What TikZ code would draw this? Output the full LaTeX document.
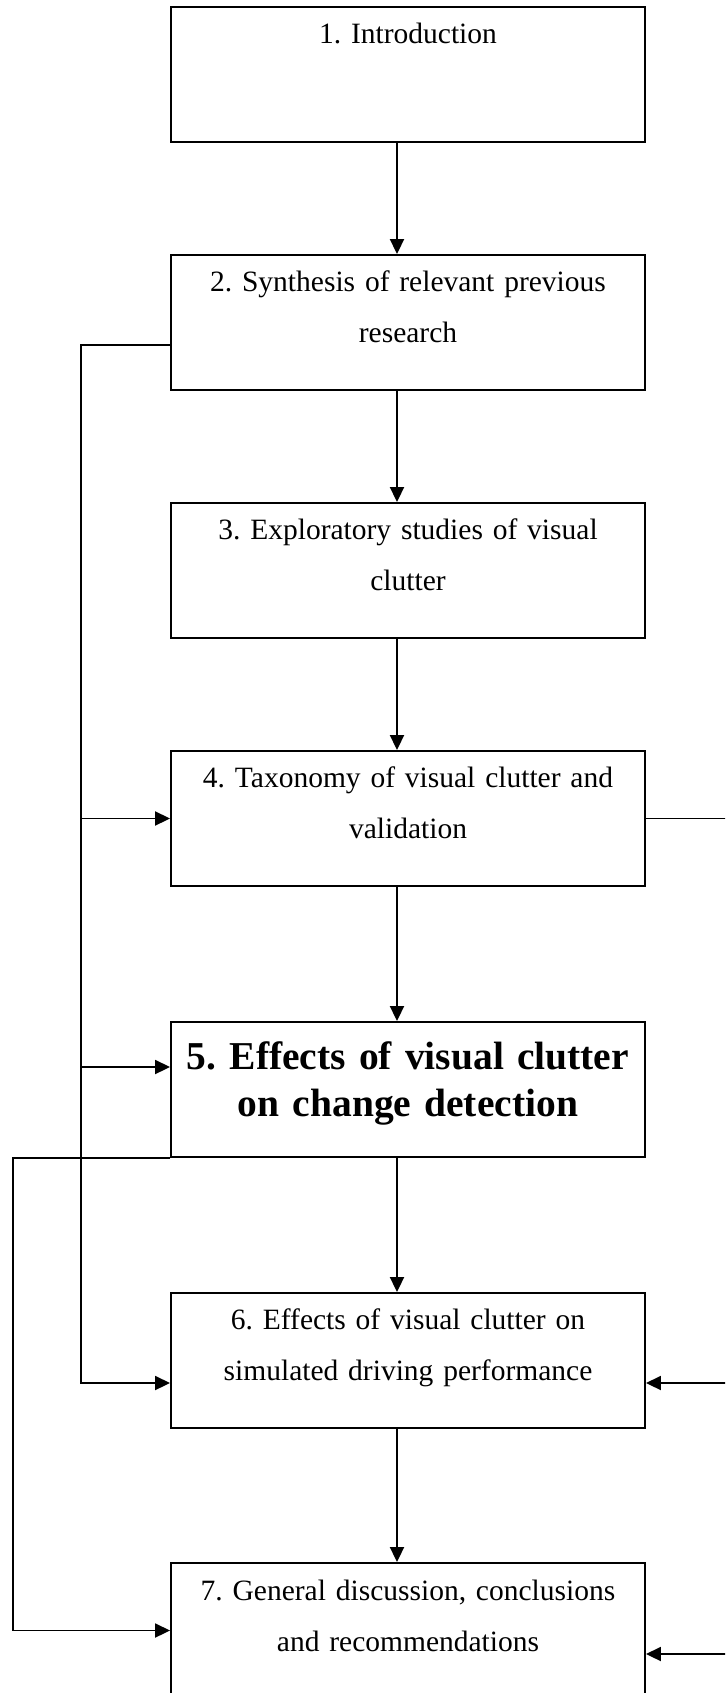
\documentclass[tikz,border=0pt]{standalone}
\usepackage{fontspec}
\setmainfont{Liberation Serif}
\usetikzlibrary{arrows.meta}

\begin{document}
\begin{tikzpicture}[
  x=1pt, y=-1pt,
  box/.style={draw, line width=1.9pt, rectangle, minimum width=474pt,
    minimum height=135pt, inner sep=0pt},
  boxtext/.style={anchor=base, text width=470pt, align=center, inner sep=0pt,
    font=\fontsize{29.5}{51}\selectfont\frenchspacing},
  boldtext/.style={anchor=base, text width=470pt, align=center, inner sep=0pt,
    font=\fontsize{39.5}{47}\selectfont\bfseries\frenchspacing},
  link/.style={line width=1.9pt, line join=miter},
  arr/.style={link, -{Triangle[width=14pt,length=15pt]}}
]
\useasboundingbox (0,0) rectangle (725,1693);
\clip (0,0) rectangle (725,1693);

% chapter boxes
\node[box] (b1) at (408,74.5) {};
\node[box] (b2) at (408,322.5) {};
\node[box] (b3) at (408,570.5) {};
\node[box] (b4) at (408,818.5) {};
\node[box] (b5) at (408,1089.5) {};
\node[box] (b6) at (408,1360.5) {};
\node[box] (b7) at (408,1630.5) {};

% chapter titles
\node[boxtext] (t1) at ([yshift=-37pt]b1.north) {1. Introduction};
\node[boxtext] (t2) at ([yshift=-37pt]b2.north) {2. Synthesis of relevant previous\\research};
\node[boxtext] (t3) at ([yshift=-37pt]b3.north) {3. Exploratory studies of visual\\clutter};
\node[boxtext] (t4) at ([yshift=-37pt]b4.north) {4. Taxonomy of visual clutter and\\validation};
\node[boldtext] (t5) at ([yshift=-48pt]b5.north) {5. Effects of visual clutter\\on change detection};
\node[boxtext] (t6) at ([yshift=-37pt]b6.north) {6. Effects of visual clutter on\\simulated driving performance};
\node[boxtext] (t7) at ([yshift=-38pt]b7.north) {7. General discussion, conclusions\\and recommendations};

% bus lines
\coordinate (spine) at (397,0);
\coordinate (busL) at (81,0);
\coordinate (busLL) at (13,0);
\coordinate (busR) at (745,0);

\coordinate (b2w) at ([yshift=-22.5pt]b2.west);
\coordinate (b5w) at ([yshift=22.5pt]b5.west);
\coordinate (b6w) at ([yshift=-22.5pt]b6.west);
\coordinate (b6e) at ([yshift=-22.5pt]b6.east);
\coordinate (b7e) at ([yshift=-23.5pt]b7.east);

% main sequence
\draw[arr] (b1.south -| spine) -- (b2.north -| spine);
\draw[arr] (b2.south -| spine) -- (b3.north -| spine);
\draw[arr] (b3.south -| spine) -- (b4.north -| spine);
\draw[arr] (b4.south -| spine) -- (b5.north -| spine);
\draw[arr] (b5.south -| spine) -- (b6.north -| spine);
\draw[arr] (b6.south -| spine) -- (b7.north -| spine);

% chapter 2 feeds chapters 4, 5 and 6
\draw[arr] (b2w) -| (busL |- b6w) -- (b6w);
\draw[arr] (b4.west -| busL) -- (b4.west);
\draw[arr] (b5w -| busL) -- (b5w);

% chapter 5 feeds chapter 7
\draw[arr] (b5.south west) -| (busLL |- b7.west) -- (b7.west);

% chapter 4 feeds chapters 6 and 7
\draw[link] (b4.east) -| (busR |- b7e);
\draw[arr] (busR |- b6e) -- (b6e);
\draw[arr] (busR |- b7e) -- (b7e);
\end{tikzpicture}
\end{document}
